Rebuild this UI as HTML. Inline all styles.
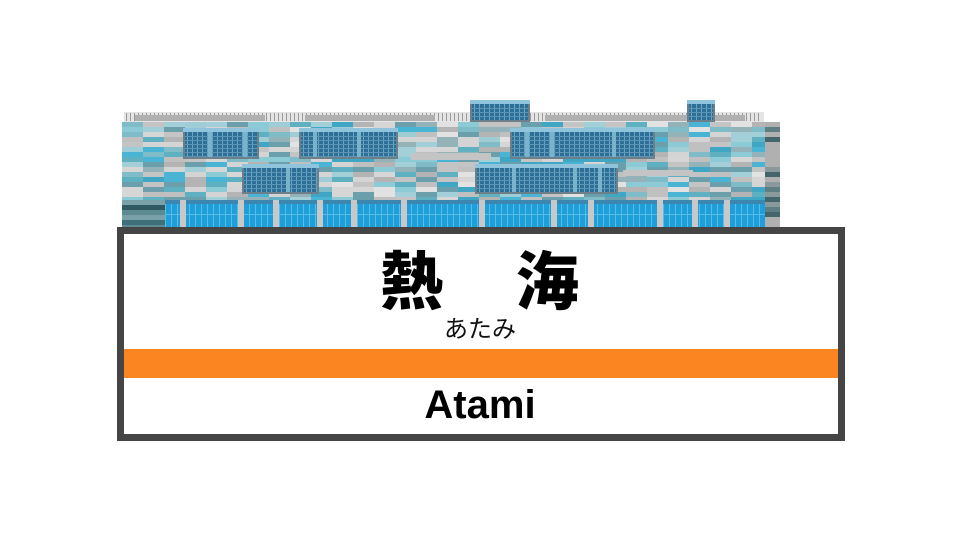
<!DOCTYPE html>
<html><head><meta charset="utf-8"><style>
html,body{margin:0;padding:0;background:#fff;width:960px;height:540px;overflow:hidden}
#sign{position:absolute;left:117px;top:227px;width:714px;height:200px;border:7px solid #454545;background:#fff}
.k{position:absolute;top:243px;font-family:"Noto Sans CJK JP",sans-serif;font-weight:900;font-size:63px;line-height:70px;color:#000}
.kana{position:absolute;left:0;width:960px;text-align:center;top:313px;font-family:"Liberation Sans","Noto Sans CJK JP",sans-serif;font-size:24px;line-height:34px;color:#111}
.band{position:absolute;left:124px;width:714px;top:349px;height:29px;background:#fb8521}
.en{position:absolute;left:0;width:960px;text-align:center;top:381px;font-family:"Liberation Sans",sans-serif;font-weight:bold;font-size:40px;line-height:48px;color:#000}
svg{position:absolute;left:0;top:0}
</style></head><body>
<svg id="b" width="960" height="240" viewBox="0 0 960 240"></svg>
<div id="sign"></div>
<div class="k" style="left:380px">熱</div>
<div class="k" style="left:516px">海</div>
<div class="kana">あたみ</div>
<div class="band"></div>
<div class="en">Atami</div>
<script>
var s=document.getElementById('b'),h='';
function r(x,y,w,hh,c){h+='<rect x="'+x+'" y="'+y+'" width="'+w+'" height="'+hh+'" fill="'+c+'"/>';}
var seed=7;function rnd(){seed=(seed*16807)%2147483647;return seed/2147483647;}
var light=['#d4d4d4','#c4c4c4','#e2e2e2','#b4b4b4','#9fcdd6','#7fbcc8'];
var teal=['#5fb0c0','#4ab4d4','#8ccad6','#c0c0c0','#a3d0d8','#6a9fab','#d6d6d6','#3fa6c4','#94b3b9'];
r(124,112,640,10,'#e4e4e4');
for(var x=126;x<760;x+=4) r(x,113,1,8,'#9a9a9a');
r(135,115,130,6,'#b0b0b0');r(305,115,130,6,'#b0b0b0');r(545,115,200,6,'#b0b0b0');
for(var y=122;y<200;y+=5){for(var x=122;x<765;x+=21){var t=(y-122)/78;var pal=rnd()<0.5-t*0.3?light:teal;r(x,y,21,5,pal[Math.floor(rnd()*pal.length)]);}}
for(var y=122;y<228;y+=5){r(765,y,15,5,['#8a9a9c','#5e7e84','#b0b0b0','#43656b'][Math.floor(rnd()*4)]);}
for(var y=200;y<228;y+=5){r(122,y,43,5,['#5d8a93','#3f6f78','#7aa0a8','#2f5a63'][Math.floor(rnd()*4)]);}
function win(x,y,w,hh,mull){r(x,y,w,hh,'#6d7f88');r(x+2,y+4,w-4,hh-6,'#2e6f98');r(x,y,w,4,'#8fc4dc');
 for(var i=x+4;i<x+w-2;i+=5)r(i,y+4,1,hh-6,'#6aa5c4');for(var j=y+8;j<y+hh-2;j+=4)r(x+2,j,w-4,1,'#5c94b4');
 mull.forEach(function(m){r(m,y+4,4,hh-6,'#7ab3cc');});}
win(183,128,76,31,[208,243]);win(299,128,99,31,[313,357]);win(510,128,145,31,[525,550,612]);
win(242,164,77,30,[286]);win(475,164,143,30,[512,573,598]);
r(411,153,80,7,'#c4c4c4');r(623,170,70,6,'#c4c4c4');
win(470,100,60,22,[]);win(687,100,28,22,[]);
r(165,200,600,28,'#1f9fd9');r(165,200,600,4,'#3b87b0');
for(var x=165;x<765;x+=6)r(x,204,1,24,'#57bde6');r(165,214,600,1,'#57bde6');
[180,238,273,317,351,401,479,551,588,657,692,724].forEach(function(p){r(p,200,6,28,'#c8c8c8');});
s.innerHTML=h;
</script>
</body></html>
